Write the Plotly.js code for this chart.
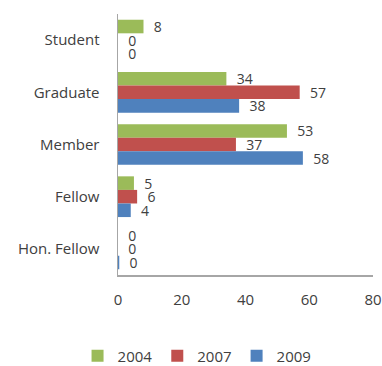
<!DOCTYPE html>
<html><head><meta charset="utf-8">
<script src="https://cdn.plot.ly/plotly-3.0.1.min.js"></script>
<style>html,body{margin:0;padding:0;background:#fff}#c{width:382px;height:366px}</style>
</head><body><div id="c"></div>
<script>
const categories = ["Student", "Graduate", "Member", "Fellow", "Hon. Fellow"];
const years = ["2004", "2007", "2009"];
const v2004 = [8, 34, 53, 5, 0];
const v2007 = [0, 57, 37, 6, 0];
const v2009 = [0, 38, 58, 4, 0.4];
const colors = ["#9BBB59", "#C0504D", "#4F81BD"];
const xTicks = [0, 20, 40, 60, 80];

const series = [v2004, v2007, v2009];
const font = "'Open Sans', sans-serif";
const data = series.map((vals, i) => ({
  type: "bar", orientation: "h",
  name: years[i], y: categories, x: vals,
  marker: {color: colors[i]},
  text: vals.map(v => "\u00A0\u00A0" + String(Math.round(v))),
  textposition: "outside", cliponaxis: false, constraintext: "none", textangle: 0,
  textfont: {family: font, size: 14, color: "#404040"},
  hoverinfo: "x+y"
}));

const layout = {
  width: 382, height: 366,
  margin: {l: 118, r: 9, t: 14, b: 91, autoexpand: false},
  paper_bgcolor: "#fff", plot_bgcolor: "#fff",
  barmode: "group", bargap: 0.22, bargroupgap: 0,
  font: {family: font, size: 14, color: "#404040"},
  showlegend: true,
  legend: {orientation: "h", x: 0.31, xanchor: "center", y: -0.31, yanchor: "middle",
           traceorder: "normal", font: {family: font, size: 15, color: "#404040"},
           itemwidth: 30},
  xaxis: {range: [0, 80], tickvals: xTicks, ticktext: xTicks.map(String), automargin: false,
          tickfont: {family: font, size: 15, color: "#404040"},
          showgrid: false, zeroline: false, showline: true, linecolor: "#A6A6A6", linewidth: 1.5,
          ticks: "outside", ticklen: 10, tickcolor: "rgba(0,0,0,0)", fixedrange: true},
  yaxis: {autorange: "reversed", showgrid: false, zeroline: false, showline: true, automargin: false,
          tickfont: {family: font, size: 15, color: "#404040"},
          linecolor: "#A6A6A6", linewidth: 1.5, ticks: "outside", ticklen: 14,
          tickcolor: "rgba(0,0,0,0)", fixedrange: true}
};
Plotly.newPlot("c", data, layout, {displayModeBar: false, staticPlot: true});
</script></body></html>
